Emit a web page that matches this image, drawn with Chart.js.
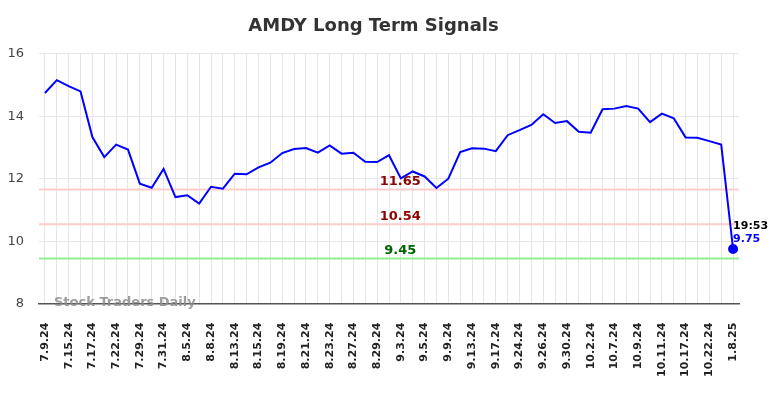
<!DOCTYPE html>
<html>
<head>
<meta charset="utf-8">
<script src="https://cdn.jsdelivr.net/npm/chart.js@4.4.1/dist/chart.umd.min.js"></script>
<style>
  html, body { margin: 0; padding: 0; background: #fff; }
  #wrap { width: 784px; height: 398px; }
</style>
</head>
<body>
<div id="wrap"><canvas id="signalChart" width="784" height="398"></canvas></div>
<script>
// dates (only every second one shows as a tick label)
const dates = [
  '7.9.24', '7.12.24', '7.15.24', '7.16.24', '7.17.24', '7.19.24', '7.22.24', '7.25.24',
  '7.29.24', '7.30.24', '7.31.24', '8.2.24', '8.5.24', '8.6.24', '8.8.24', '8.12.24',
  '8.13.24', '8.14.24', '8.15.24', '8.16.24', '8.19.24', '8.20.24', '8.21.24', '8.22.24',
  '8.23.24', '8.26.24', '8.27.24', '8.28.24', '8.29.24', '8.30.24', '9.3.24', '9.4.24',
  '9.5.24', '9.6.24', '9.9.24', '9.11.24', '9.13.24', '9.16.24', '9.17.24', '9.20.24',
  '9.24.24', '9.25.24', '9.26.24', '9.27.24', '9.30.24', '10.1.24', '10.2.24', '10.4.24',
  '10.7.24', '10.8.24', '10.9.24', '10.10.24', '10.11.24', '10.15.24', '10.17.24', '10.18.24',
  '10.22.24', '10.24.24', '1.8.25'
];

const prices = [
  14.74, 15.15, 14.96, 14.79, 13.33, 12.69, 13.09, 12.93, 11.84, 11.71, 12.31, 11.41,
  11.47, 11.20, 11.74, 11.68, 12.16, 12.14, 12.36, 12.51, 12.82, 12.95, 12.98, 12.83,
  13.06, 12.80, 12.83, 12.54, 12.53, 12.75, 12.01, 12.23, 12.07, 11.70, 12.00, 12.85,
  12.97, 12.96, 12.88, 13.39, 13.55, 13.72, 14.06, 13.78, 13.84, 13.50, 13.47,
  14.22, 14.24, 14.32, 14.24, 13.81, 14.08, 13.93, 13.32, 13.31, 13.20, 13.09, 9.75
];

const levels = [11.65, 10.54, 9.45];
const levelLineColors = ['#ffcccc', '#ffcccc', '#90ee90'];
const levelTextColors = ['#8b0000', '#8b0000', '#006400'];
const lastTime = '19:53';

const FONT = "'DejaVu Sans', sans-serif";
const lastIdx = prices.length - 1;

// horizontal signal lines + labels, watermark, last price tag
const overlayPlugin = {
  id: 'overlay',
  beforeDatasetsDraw(chart) {
    const { ctx, chartArea, scales } = chart;
    ctx.save();
    levels.forEach((lv, i) => {
      const y = scales.y.getPixelForValue(lv);
      ctx.strokeStyle = levelLineColors[i];
      ctx.lineWidth = 2;
      ctx.beginPath();
      ctx.moveTo(chartArea.left, y);
      ctx.lineTo(chartArea.right, y);
      ctx.stroke();
    });
    ctx.restore();
  },
  afterDatasetsDraw(chart) {
    const { ctx, chartArea, scales } = chart;
    ctx.save();
    const cx = chartArea.left + (chartArea.right - chartArea.left) * 0.516;
    ctx.font = 'bold 13px ' + FONT;
    ctx.textAlign = 'center';
    ctx.textBaseline = 'middle';
    levels.forEach((lv, i) => {
      const y = scales.y.getPixelForValue(lv);
      ctx.fillStyle = levelTextColors[i];
      ctx.fillText(lv.toFixed(2), cx, y - 8);
    });

    // watermark
    ctx.font = 'bold 13px ' + FONT;
    ctx.textAlign = 'left';
    ctx.fillStyle = 'rgba(140,140,140,0.85)';
    ctx.fillText('Stock Traders Daily', chartArea.left + 15, chartArea.bottom - 1);

    // last point tag
    const px = scales.x.getPixelForValue(lastIdx);
    const py = scales.y.getPixelForValue(prices[lastIdx]);
    ctx.font = 'bold 11px ' + FONT;
    ctx.fillStyle = '#000';
    ctx.fillText(lastTime, px, py - 23);
    ctx.fillStyle = '#0000ff';
    ctx.fillText(prices[lastIdx].toFixed(2), px, py - 10);
    ctx.restore();
  }
};

new Chart(document.getElementById('signalChart').getContext('2d'), {
  type: 'line',
  data: {
    labels: dates,
    datasets: [{
      data: prices,
      borderColor: '#0000ff',
      backgroundColor: '#0000ff',
      borderWidth: 2,
      tension: 0,
      pointRadius: prices.map((_, i) => i === lastIdx ? 4 : 0),
      pointHoverRadius: 0
    }]
  },
  options: {
    responsive: false,
    animation: false,
    events: [],
    layout: { padding: { left: 8, right: 45, top: 0, bottom: 2 } },
    plugins: {
      legend: { display: false },
      tooltip: { enabled: false },
      title: {
        display: true,
        text: 'AMDY Long Term Signals',
        color: '#333',
        font: { family: FONT, size: 18, weight: 'bold' },
        padding: { top: 16, bottom: 16 }
      }
    },
    scales: {
      x: {
        offset: true,
        grid: { color: '#e6e6e6', drawTicks: false },
        border: { color: '#555', width: 1.5 },
        ticks: {
          autoSkip: false,
          maxRotation: 90,
          minRotation: 90,
          padding: 19,
          color: '#222',
          font: { family: FONT, size: 11, weight: 'bold' },
          callback: (v, i) => (i % 2 === 0 ? dates[i] : '')
        }
      },
      y: {
        min: 8,
        max: 16,
        afterFit: (scale) => { scale.width = 31; },
        grid: { color: '#e6e6e6', drawTicks: false },
        border: { display: false },
        ticks: {
          stepSize: 2,
          padding: 15,
          color: '#444',
          font: { family: FONT, size: 13 }
        }
      }
    }
  },
  plugins: [overlayPlugin]
});
</script>
</body>
</html>
